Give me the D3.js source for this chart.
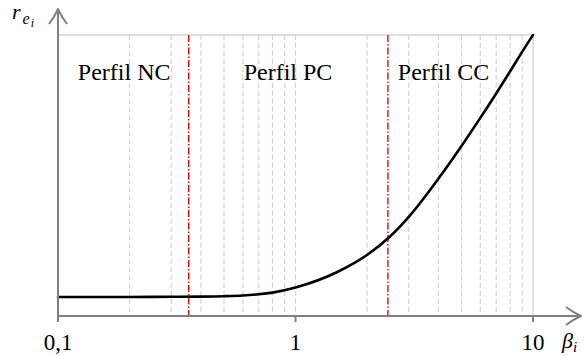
<!DOCTYPE html>
<html>
<head>
<meta charset="utf-8">
<script src="https://cdn.jsdelivr.net/npm/d3@7"></script>
<style>
  body { margin: 0; background: #fff; }
  #chart { width: 584px; height: 356px; }
  text { font-family: "Liberation Serif", "Times New Roman", Times, "DejaVu Serif", "Noto Serif", serif; }
</style>
</head>
<body>
<div id="chart"></div>
<script>
// beta values along the curve and the read-off r_ei values (0..1 of plot height)
const curveBeta = [0.1, 0.2, 0.3, 0.4, 0.5, 0.6, 0.7, 0.8, 1, 1.5, 2, 2.5, 3, 4, 5, 6, 7, 8, 9, 10];
const curveR = [0.0676, 0.0676, 0.0683, 0.069, 0.0705, 0.073, 0.0773, 0.0833, 0.1014, 0.1566, 0.2171, 0.283, 0.353, 0.489, 0.605, 0.705, 0.792, 0.870, 0.940, 1.0];

const majorTicks = [0.1, 1, 10];
const tickLabels = ["0,1", "1", "10"];
const minorGrid = [0.2, 0.3, 0.4, 0.5, 0.6, 0.7, 0.8, 0.9, 1, 2, 3, 4, 5, 6, 7, 8, 9];

const limits = [0.355, 2.45]; // profile boundaries
const profileNames = ["Perfil NC", "Perfil PC", "Perfil CC"];
const profileAt = [0.19, 0.93, 4.2];

const width = 584;
const height = 356;
const mLeft = 58, mRight = 533, mTop = 35, mBottom = 316;
const axisColor = "#808080";
const gridColor = "#d4d4d4";

const x = d3.scaleLog().domain([0.1, 10]).range([mLeft, mRight]);
const y = d3.scaleLinear().domain([0, 1]).range([mBottom, mTop]);

const svg = d3
  .select("#chart")
  .append("svg")
  .attr("width", width)
  .attr("height", height)
  .attr("viewBox", `0 0 ${width} ${height}`);

// dashed minor grid
svg
  .append("g")
  .selectAll("line")
  .data(minorGrid)
  .join("line")
  .attr("x1", (d) => x(d))
  .attr("x2", (d) => x(d))
  .attr("y1", y(1))
  .attr("y2", y(0))
  .attr("stroke", gridColor)
  .attr("stroke-width", 1.2)
  .attr("stroke-dasharray", "5,3");

// frame top and right (solid, light)
svg
  .append("path")
  .attr("d", `M${x(0.1)},${y(1)}H${x(10)}V${y(0)}`)
  .attr("fill", "none")
  .attr("stroke", gridColor)
  .attr("stroke-width", 1.4);

// red profile limits
svg
  .append("g")
  .selectAll("line")
  .data(limits)
  .join("line")
  .attr("x1", (d) => x(d))
  .attr("x2", (d) => x(d))
  .attr("y1", y(1))
  .attr("y2", y(0))
  .attr("stroke", "#ff0000")
  .attr("stroke-width", 1.4)
  .attr("stroke-dasharray", "7,2,1.5,2");

// profile labels
svg
  .append("g")
  .selectAll("text")
  .data(profileNames)
  .join("text")
  .attr("x", (d, i) => x(profileAt[i]))
  .attr("y", 80)
  .attr("text-anchor", "middle")
  .attr("font-size", 24)
  .attr("fill", "#000")
  .text((d) => d);

// curve
const line = d3
  .line()
  .x((d, i) => x(curveBeta[i]))
  .y((d) => y(d))
  .curve(d3.curveMonotoneX);

svg
  .append("path")
  .datum(curveR)
  .attr("d", line)
  .attr("fill", "none")
  .attr("stroke", "#000")
  .attr("stroke-width", 2.6)
  .attr("stroke-linecap", "round");

// axes
const axes = svg.append("g").attr("stroke", axisColor).attr("fill", "none").attr("stroke-width", 2);
axes.append("line").attr("x1", mLeft).attr("x2", 580).attr("y1", mBottom).attr("y2", mBottom);
axes.append("line").attr("x1", mLeft).attr("x2", mLeft).attr("y1", mBottom).attr("y2", 10);
axes
  .append("path")
  .attr("d", "M566,307 Q574,313 581,316 Q574,319 566,325")
  .attr("stroke-linejoin", "round");
axes
  .append("path")
  .attr("d", "M49,24 Q55,16 58,9 Q61,16 67,24")
  .attr("stroke-linejoin", "round");

// major ticks
axes
  .append("g")
  .selectAll("line")
  .data(majorTicks)
  .join("line")
  .attr("x1", (d) => x(d))
  .attr("x2", (d) => x(d))
  .attr("y1", mBottom)
  .attr("y2", mBottom + 6);

svg
  .append("g")
  .selectAll("text")
  .data(tickLabels)
  .join("text")
  .attr("x", (d, i) => x(majorTicks[i]))
  .attr("y", 350)
  .attr("text-anchor", "middle")
  .attr("font-size", 23)
  .attr("fill", "#000")
  .text((d) => d);

// axis names
const yName = svg
  .append("text")
  .attr("x", 12)
  .attr("y", 19)
  .attr("font-style", "italic")
  .attr("font-size", 22)
  .attr("fill", "#000");
yName.append("tspan").text("r");
yName.append("tspan").attr("dx", 2).attr("dy", 5).attr("font-size", 16).text("e");
yName.append("tspan").attr("dx", 1).attr("dy", 3).attr("font-size", 12).text("i");

const xName = svg
  .append("text")
  .attr("x", 562)
  .attr("y", 348)
  .attr("font-style", "italic")
  .attr("font-size", 22)
  .attr("fill", "#000");
xName.append("tspan").text("β");
xName.append("tspan").attr("dy", 4).attr("font-size", 15).text("i");
</script>
</body>
</html>
